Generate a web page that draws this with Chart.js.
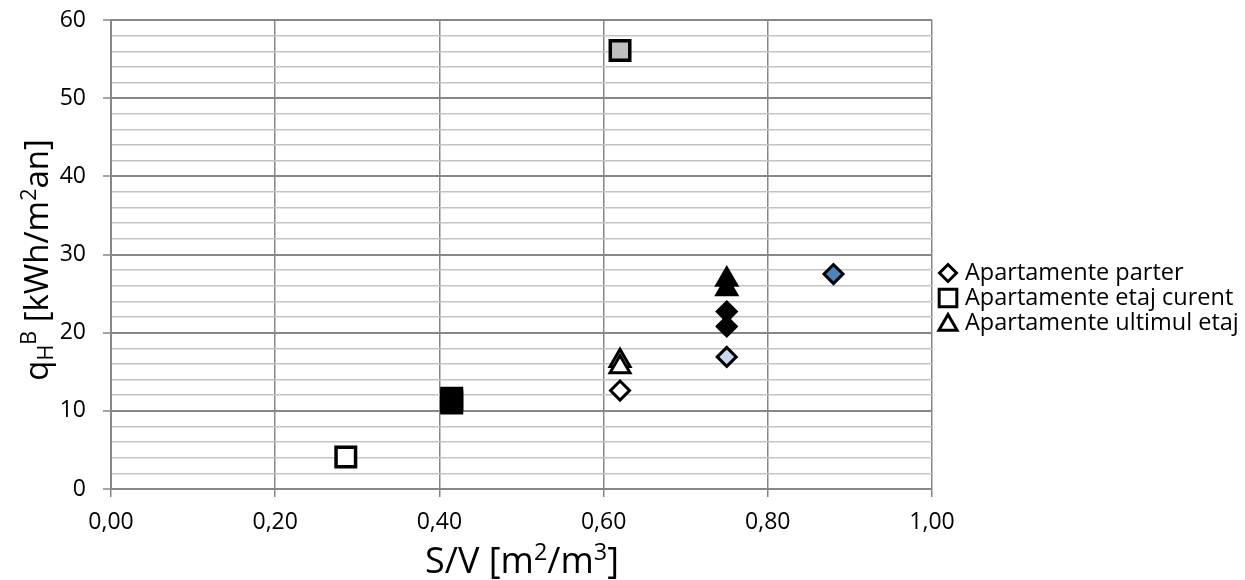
<!DOCTYPE html>
<html><head><meta charset="utf-8">
<script src="https://cdn.jsdelivr.net/npm/chart.js@4.4.0/dist/chart.umd.min.js"></script>
<style>html,body{margin:0;padding:0;background:#fff}#wrap{width:1245px;height:580px;position:relative}</style>
</head><body><div id="wrap"><canvas id="c" width="1245" height="580"></canvas></div>
<script>
// ---- data ----
const seriesNames = ['Apartamente parter', 'Apartamente etaj curent', 'Apartamente ultimul etaj'];

const parterX = [0.62, 0.75, 0.75, 0.75, 0.88];
const parterY = [12.6, 22.7, 20.8, 16.9, 27.5];
const parterFill = ['#ffffff', '#000000', '#000000', '#c6d9f1', '#4f81bd'];

const curentX = [0.286, 0.415, 0.415, 0.415, 0.62];
const curentY = [4.1, 11.6, 11.3, 11.0, 56.1];
const curentFill = ['#ffffff', '#000000', '#000000', '#000000', '#bfbfbf'];

const ultimulX = [0.62, 0.62, 0.75, 0.75];
const ultimulY = [16.4, 15.6, 26.8, 25.6];
const ultimulFill = ['#ffffff', '#ffffff', '#000000', '#000000'];

const xTicks = [0, 0.2, 0.4, 0.6, 0.8, 1.0];
const yTicks = [0, 10, 20, 30, 40, 50, 60];

const FONT = "'Open Sans', sans-serif";
const MAJOR = '#878787', MINOR = '#c3c3c3';

function pts(xs, ys) { return xs.map((x, i) => ({ x: x, y: ys[i] })); }

const styles = [
  { pointStyle: 'rectRot', radius: 9.5, bw: 3 },
  { pointStyle: 'rect', radius: 13.8, bw: 3.5 },
  { pointStyle: 'triangle', radius: 11.5, bw: 3 }
];

const datasets = [
  { label: seriesNames[0], data: pts(parterX, parterY), pointBackgroundColor: parterFill },
  { label: seriesNames[1], data: pts(curentX, curentY), pointBackgroundColor: curentFill },
  { label: seriesNames[2], data: pts(ultimulX, ultimulY), pointBackgroundColor: ultimulFill }
].map((d, i) => Object.assign(d, {
  showLine: false,
  pointStyle: styles[i].pointStyle,
  pointRadius: styles[i].radius,
  pointHoverRadius: styles[i].radius,
  pointBorderWidth: styles[i].bw,
  pointBorderColor: '#000000',
  borderColor: '#000000',
  backgroundColor: '#ffffff'
}));

function drawMarker(ctx, style, x, y, r, bw, fill) {
  ctx.save();
  ctx.beginPath();
  if (style === 'rectRot') {
    ctx.moveTo(x, y - r); ctx.lineTo(x + r, y); ctx.lineTo(x, y + r); ctx.lineTo(x - r, y);
  } else if (style === 'rect') {
    const s = Math.SQRT1_2 * r;
    ctx.rect(x - s, y - s, 2 * s, 2 * s);
  } else {
    const a = 2 * Math.PI / 3;
    for (let k = 0; k < 3; k++) {
      const ang = k * a;
      const px = x + Math.sin(ang) * r, py = y - Math.cos(ang) * r;
      if (k === 0) ctx.moveTo(px, py); else ctx.lineTo(px, py);
    }
  }
  ctx.closePath();
  ctx.fillStyle = fill; ctx.fill();
  ctx.lineWidth = bw; ctx.strokeStyle = '#000'; ctx.stroke();
  ctx.restore();
}

function richWidth(ctx, parts, size) {
  let w = 0;
  parts.forEach(p => {
    const s = (p.sub || p.sup) ? size * 0.65 : size;
    ctx.font = s + 'px ' + FONT;
    w += ctx.measureText(p.t).width;
  });
  return w;
}
function drawRich(ctx, parts, size, x) {
  let cx = x;
  parts.forEach(p => {
    const s = (p.sub || p.sup) ? size * 0.65 : size;
    ctx.font = s + 'px ' + FONT;
    let dy = 0;
    if (p.sup) dy = -size * 0.36;
    if (p.sub) dy = size * 0.16;
    ctx.fillText(p.t, cx, dy);
    cx += ctx.measureText(p.t).width;
  });
}

const xTitleParts = [{ t: 'S/V [m' }, { t: '2', sup: true }, { t: '/m' }, { t: '3', sup: true }, { t: ']' }];
const yTitleParts = [{ t: 'q' }, { t: 'H', sub: true }, { t: 'B', sup: true }, { t: ' [kWh/m' }, { t: '2', sup: true }, { t: 'an]' }];

const extras = {
  id: 'extras',
  afterDraw(chart) {
    const ctx = chart.ctx;
    ctx.save();
    ctx.fillStyle = '#000';
    ctx.textBaseline = 'alphabetic';
    ctx.textAlign = 'left';
    const xs = 36;
    const xw = richWidth(ctx, xTitleParts, xs);
    ctx.save();
    ctx.translate(522 - xw / 2, 573);
    drawRich(ctx, xTitleParts, xs, 0);
    ctx.restore();
    const ys = 33;
    const yw = richWidth(ctx, yTitleParts, ys);
    ctx.save();
    ctx.translate(48, 260 + yw / 2);
    ctx.rotate(-Math.PI / 2);
    drawRich(ctx, yTitleParts, ys, 0);
    ctx.restore();
    const rows = [273, 298, 323];
    ctx.font = '23.5px ' + FONT;
    ctx.textBaseline = 'middle';
    seriesNames.forEach((n, i) => {
      const st = styles[i];
      let r = st.pointStyle === 'rect' ? 12.5 : (st.pointStyle === 'triangle' ? 10.5 : 8.5);
      const yy = rows[i] + (st.pointStyle === 'triangle' ? 2 : 0);
      drawMarker(ctx, st.pointStyle, 948, yy, r, 3, '#fff');
      ctx.fillStyle = '#000';
      ctx.fillText(n, 965, rows[i]);
    });
    ctx.restore();
  }
};

function noPad(s) { s.paddingTop = 0; s.paddingBottom = 0; s.paddingLeft = 0; s.paddingRight = 0; }

new Chart(document.getElementById('c'), {
  type: 'scatter',
  data: { datasets: datasets },
  plugins: [extras],
  options: {
    responsive: false,
    devicePixelRatio: 1,
    animation: false,
    events: [],
    layout: { padding: { left: 0, right: 313, top: 20, bottom: 0 } },
    plugins: { legend: { display: false }, tooltip: { enabled: false } },
    scales: {
      x: {
        type: 'linear', min: 0, max: 1,
        afterFit(s) { s.height = 91; noPad(s); },
        afterBuildTicks(s) { s.ticks = xTicks.map(v => ({ value: v })); },
        ticks: {
          autoSkip: false, maxRotation: 0,
          font: { family: FONT, size: 23 }, color: '#000', padding: 12,
          callback: v => Number(v).toFixed(2).replace('.', ',')
        },
        grid: { color: MAJOR, lineWidth: 1.5, tickLength: 8, tickColor: MAJOR, tickWidth: 1.5 },
        border: { color: MAJOR, width: 2 }
      },
      y: {
        type: 'linear', min: 0, max: 60,
        afterFit(s) { s.width = 111; noPad(s); },
        ticks: {
          stepSize: 2, autoSkip: false,
          font: { family: FONT, size: 23 }, color: '#000', padding: 17,
          callback: v => (v % 10 === 0 && yTicks.indexOf(v) >= 0) ? String(v) : ''
        },
        grid: {
          color: c => (c.tick && c.tick.value % 10 === 0) ? MAJOR : MINOR,
          lineWidth: c => (c.tick && c.tick.value % 10 === 0) ? 2 : 1.5,
          tickLength: 8,
          tickColor: c => (c.tick && c.tick.value % 10 === 0) ? MAJOR : 'rgba(0,0,0,0)',
          tickWidth: 1.5
        },
        border: { color: MAJOR, width: 2 }
      }
    }
  }
});
</script></body></html>
